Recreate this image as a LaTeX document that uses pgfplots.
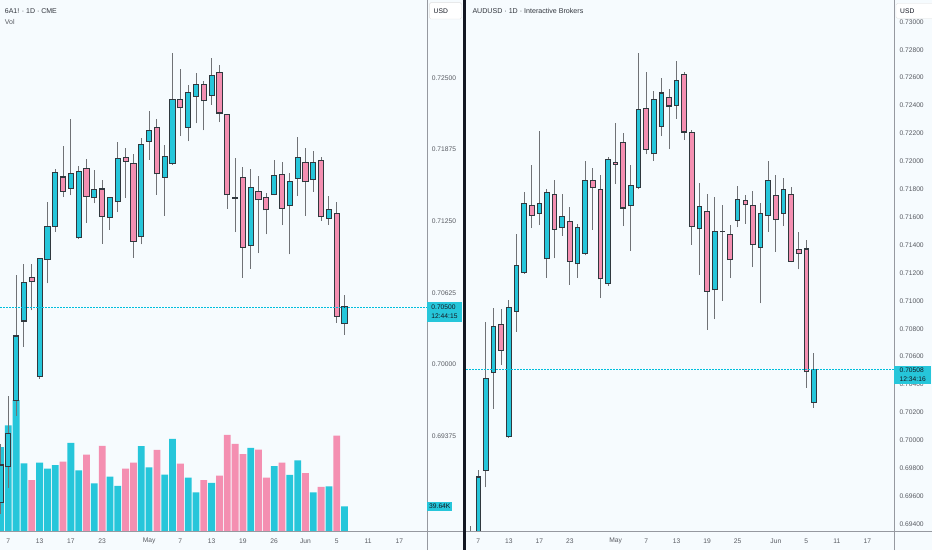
\documentclass[border=0pt]{standalone}
\usepackage{fontspec}
\setmainfont{Liberation Sans}
\usepackage{pgfplots}
\pgfplotsset{compat=1.18}
\usepackage{pgfplotstable}

\definecolor{bg}{RGB}{246,251,254}
\definecolor{tvup}{RGB}{38,198,218}
\definecolor{tvdn}{RGB}{244,143,177}
\definecolor{dotc}{RGB}{0,190,220}
\definecolor{bord}{RGB}{48,56,62}
\definecolor{wick}{RGB}{112,114,118}
\definecolor{lab}{RGB}{88,91,98}
\definecolor{hdr}{RGB}{50,54,62}
\definecolor{sep}{RGB}{150,153,160}
\definecolor{ink}{RGB}{19,23,34}

% left panel (6A1!) candles: index, open, high, low, close
\pgfplotstableread{
i o h l c
0 0.68793 0.69301 0.68692 0.69121
1 0.69108 0.69721 0.68925 0.69399
2 0.69684 0.70783 0.69552 0.70247
3 0.70379 0.70878 0.70155 0.70715
5 0.69895 0.70930 0.69874 0.70920
6 0.70914 0.71413 0.70706 0.71205
7 0.71205 0.71704 0.71159 0.71674
9 0.71536 0.72145 0.71474 0.71667
10 0.71104 0.71735 0.71092 0.71680
12 0.71453 0.71695 0.71404 0.71527
14 0.71282 0.71456 0.71175 0.71456
15 0.71419 0.71940 0.71328 0.71799
18 0.71119 0.71977 0.71046 0.71921
19 0.71946 0.72215 0.71787 0.72041
21 0.71634 0.71918 0.71297 0.71814
22 0.71756 0.72714 0.71741 0.72313
24 0.72068 0.72439 0.71946 0.72368
25 0.72338 0.72540 0.72102 0.72439
27 0.72347 0.72671 0.72267 0.72521
32 0.71037 0.71707 0.70832 0.71542
35 0.71481 0.71787 0.71474 0.71649
37 0.71383 0.71670 0.70960 0.71597
38 0.71625 0.71980 0.71471 0.71802
40 0.71612 0.71863 0.71508 0.71762
42 0.71276 0.71471 0.71220 0.71349
44 0.70357 0.70608 0.70256 0.70500
}\LU
\pgfplotstableread{
i o h l c
4 0.70761 0.70875 0.70471 0.70722
8 0.71634 0.71909 0.71459 0.71511
11 0.71710 0.71796 0.71236 0.71465
13 0.71530 0.71609 0.71052 0.71291
16 0.71808 0.71888 0.71450 0.71771
17 0.71756 0.71839 0.70930 0.71074
20 0.72068 0.72145 0.71481 0.71664
23 0.72313 0.72580 0.71992 0.72240
26 0.72445 0.72476 0.72041 0.72301
28 0.72549 0.72610 0.72114 0.72194
29 0.72179 0.72179 0.71358 0.71481
30 0.71452 0.71802 0.71153 0.71450
31 0.71631 0.71726 0.70755 0.71022
33 0.71508 0.71643 0.70970 0.71435
34 0.71456 0.71496 0.71135 0.71349
36 0.71658 0.71762 0.71214 0.71364
39 0.71762 0.71885 0.71297 0.71594
41 0.71781 0.71805 0.71251 0.71288
43 0.71318 0.71419 0.70363 0.70419
}\LD
% left volume (thousands)
\pgfplotstableread{
i v
0 132.7
1 166.8
2 206.5
3 107.4
5 108.5
6 99.1
7 104.6
9 139.3
10 96.4
12 76.0
14 86.4
15 72.1
18 134.3
19 100.8
21 89.7
22 145.9
24 84.8
25 61.7
27 76.5
32 131.6
35 103.0
37 89.2
38 111.8
40 61.7
42 71.0
44 39.64
}\VU
\pgfplotstableread{
i v
4 80.9
8 110.1
11 121.1
13 134.9
16 99.1
17 108.5
20 128.3
23 106.8
26 80.9
28 88.1
29 152.0
30 137.7
31 121.7
33 128.8
34 84.8
36 108.5
39 91.9
41 70.5
43 150.9
}\VD
% right panel (AUDUSD) candles
\pgfplotstableread{
i o h l c
0 0.69150 0.69385 0.69050 0.69250
1 0.69250 0.69787 0.69150 0.69737
2 0.69787 0.70848 0.69662 0.70441
3 0.70486 0.70949 0.70227 0.70818
5 0.70026 0.71004 0.70019 0.70952
6 0.70926 0.71480 0.70778 0.71251
7 0.71203 0.71779 0.71195 0.71696
9 0.71628 0.72219 0.71542 0.71698
10 0.71301 0.71799 0.71165 0.71779
12 0.71527 0.71766 0.71467 0.71603
14 0.71266 0.71552 0.71165 0.71527
15 0.71341 0.72000 0.71326 0.71864
18 0.71125 0.72030 0.71105 0.72013
21 0.71681 0.71975 0.71359 0.71829
22 0.71812 0.72775 0.71799 0.72370
24 0.72055 0.72503 0.72005 0.72445
25 0.72252 0.72596 0.72181 0.72490
27 0.72402 0.72717 0.72307 0.72578
30 0.71517 0.71842 0.71188 0.71678
32 0.71080 0.71741 0.70869 0.71497
33 0.71497 0.71686 0.70999 0.71497
35 0.71578 0.71824 0.71527 0.71729
38 0.71384 0.71698 0.70982 0.71628
39 0.71613 0.72000 0.71497 0.71862
41 0.71628 0.71879 0.71535 0.71799
45 0.70273 0.70625 0.70235 0.70508
}\RU
\pgfplotstableread{
i o h l c
4 0.70831 0.70939 0.70542 0.70647
8 0.71686 0.71977 0.71522 0.71613
11 0.71761 0.71867 0.71304 0.71515
13 0.71570 0.71673 0.71115 0.71283
16 0.71864 0.71950 0.71510 0.71812
17 0.71799 0.71900 0.71019 0.71158
19 0.71992 0.72277 0.71837 0.71980
20 0.72138 0.72201 0.71535 0.71666
23 0.72377 0.72641 0.72050 0.72088
26 0.72458 0.72516 0.72088 0.72397
28 0.72621 0.72641 0.72156 0.72211
29 0.72209 0.72226 0.71402 0.71535
31 0.71643 0.71766 0.70793 0.71070
34 0.71477 0.71547 0.71163 0.71296
36 0.71718 0.71761 0.71552 0.71688
37 0.71686 0.71791 0.71241 0.71404
40 0.71754 0.71900 0.71351 0.71585
42 0.71761 0.71816 0.71276 0.71283
43 0.71366 0.71492 0.71226 0.71341
44 0.71371 0.71434 0.70378 0.70491
}\RD

% #1 table, #2 body colour, #3 one pixel in price units, #4 body width, #5 inner width
\newcommand\candles[5]{%
 \addplot[draw=none, mark=none, forget plot, error bars/.cd, y dir=plus, y explicit, error mark=none,
   error bar style={draw=wick, line width=1pt}]
   table[x=i, y=l, y error plus expr={\thisrow{h}-\thisrow{l}}]{#1};
 \addplot[draw=none, mark=none, forget plot, error bars/.cd, y dir=plus, y explicit, error mark=none,
   error bar style={draw=bord, line width=#4}]
   table[x=i, y expr={min(\thisrow{o},\thisrow{c})-0.6*#3}, y error plus expr={abs(\thisrow{o}-\thisrow{c})+1.2*#3}]{#1};
 \addplot[draw=none, mark=none, forget plot, error bars/.cd, y dir=plus, y explicit, error mark=none,
   error bar style={draw=#2, line width=#5}]
   table[x=i, y expr={min(\thisrow{o},\thisrow{c})+0.5*#3}, y error plus expr={max(abs(\thisrow{o}-\thisrow{c})-1.0*#3,0)}]{#1};
}

\pgfplotsset{tvaxis/.style={scale only axis, anchor=south west,
  axis line style={draw=none}, tick style={draw=none}, major tick length=0pt,
  xtick pos=bottom, ytick pos=right, yticklabel pos=right,
  ticklabel style={font=\fontsize{6.7}{8}\selectfont, text=lab},
  xticklabel style={anchor=center, yshift=-9.3pt},
  yticklabel style={anchor=west, inner sep=0pt}}}

\begin{document}
\begin{tikzpicture}[x=1pt,y=1pt]
\fill[bg] (0,0) rectangle (932,550);

% ---------- left: volume ----------
\begin{axis}[at={(0pt,18.3pt)}, anchor=south west, scale only axis, width=427pt, height=531.7pt,
  xmin=-0.064, xmax=54.54, ymin=0, ymax=834.6, hide axis]
\addplot[ybar, bar width=6.8pt, bar shift=0pt, fill=tvup, draw=none] table[x=i,y=v]{\VU};
\addplot[ybar, bar width=6.8pt, bar shift=0pt, fill=tvdn, draw=none] table[x=i,y=v]{\VD};
\coordinate (VL) at (axis cs:54.54,39.64);
\end{axis}

% ---------- left: price ----------
\begin{axis}[tvaxis, at={(0pt,18.3pt)}, width=427pt, height=531.7pt,
  xmin=-0.064, xmax=54.54, ymin=0.685394, ymax=0.731795,
  xtick={1,5,9,13,19,23,27,31,35,39,43,47,51},
  xticklabels={7,13,17,23,May,7,13,19,26,Jun,5,11,17},
  ytick={0.69375,0.70000,0.70625,0.71250,0.71875,0.72500},
  yticklabels={0.69375,0.70000,0.70625,0.71250,0.71875,0.72500},
  yticklabel style={xshift=4.7pt}]
\candles{\LU}{tvup}{0.0000872}{6.2pt}{4.2pt}
\candles{\LD}{tvdn}{0.0000872}{6.2pt}{4.2pt}
\coordinate (LP) at (axis cs:54.54,0.70500);
\coordinate (LP0) at (axis cs:-0.064,0.70500);
\end{axis}

% ---------- right: price ----------
\begin{axis}[tvaxis, at={(466pt,18.3pt)}, width=428pt, height=531.7pt,
  xmin=-0.616, xmax=55.49, ymin=0.693449, ymax=0.731568,
  xtick={1,5,9,13,19,23,27,31,35,40,44,48,52},
  xticklabels={7,13,17,23,May,7,13,19,25,Jun,5,11,17},
  ytick={0.694,0.696,0.698,0.700,0.702,0.704,0.706,0.708,0.710,0.712,0.714,0.716,0.718,0.720,0.722,0.724,0.726,0.728,0.730},
  yticklabels={0.69400,0.69600,0.69800,0.70000,0.70200,0.70400,0.70600,0.70800,0.71000,0.71200,0.71400,0.71600,0.71800,0.72000,0.72200,0.72400,0.72600,0.72800,0.73000},
  yticklabel style={xshift=5.3pt}]
\candles{\RU}{tvup}{0.0000717}{5.6pt}{3.6pt}
\candles{\RD}{tvdn}{0.0000717}{5.6pt}{3.6pt}
\coordinate (RP) at (axis cs:55.49,0.70508);
\coordinate (RP0) at (axis cs:-0.616,0.70508);
\end{axis}

% ---------- last-price lines ----------
\draw[draw=dotc, line width=1pt, dash pattern=on 1.5pt off 1.5pt] (LP0) -- (LP);
\draw[draw=dotc, line width=1pt, dash pattern=on 1.5pt off 1.5pt] (RP0) -- (RP);

% ---------- frame lines ----------
\draw[sep, line width=0.8pt] (427,0) -- (427,550);
\draw[sep, line width=0.8pt] (894,0) -- (894,550);
\draw[sep, line width=0.8pt] (0,18.3) -- (932,18.3);
\fill[ink] (463,0) rectangle (466,550);

% ---------- labels ----------
\node[anchor=north west, fill=tvup, text=ink, inner xsep=1.8pt, inner ysep=0pt,
  minimum width=34.5pt, minimum height=19.5pt, align=left,
  font=\fontsize{6.7}{9}\selectfont] at ([yshift=5pt]LP) {0.70500\\12:44:15};
\node[anchor=north west, fill=tvup, text=ink, inner xsep=3pt, inner ysep=0pt,
  minimum width=37pt, minimum height=18pt, align=left,
  font=\fontsize{6.7}{8.6}\selectfont] at ([yshift=4pt]RP) {0.70508\\12:34:16};
\node[anchor=west, fill=tvup, text=ink, inner xsep=2pt, inner ysep=0pt,
  minimum height=9.5pt, font=\fontsize{6.7}{8}\selectfont] at (VL) {39.64K};

\draw[fill=white, draw=black!12, rounded corners=1.5pt] (429.3,531) rectangle (461.7,547.3);
\node[anchor=west, inner sep=0pt, text=ink, font=\fontsize{6.7}{8}\selectfont] at (433.5,539.2) {USD};
\draw[fill=white, draw=black!12, rounded corners=1.5pt] (896,531.7) rectangle (935,546.7);
\node[anchor=west, inner sep=0pt, text=ink, font=\fontsize{6.7}{8}\selectfont] at (900,539.2) {USD};

\node[anchor=west, inner sep=0pt, text=hdr, font=\fontsize{7}{8}\selectfont] at (4.7,539.3) {6A1! · 1D · CME};
\node[anchor=west, inner sep=0pt, text=lab, font=\fontsize{7}{8}\selectfont] at (4.7,528.3) {Vol};
\node[anchor=west, inner sep=0pt, text=hdr, font=\fontsize{7.1}{8}\selectfont] at (472.3,539) {AUDUSD · 1D · Interactive Brokers};

\pgfresetboundingbox
\useasboundingbox (0,0) rectangle (932,550);
\end{tikzpicture}
\end{document}
